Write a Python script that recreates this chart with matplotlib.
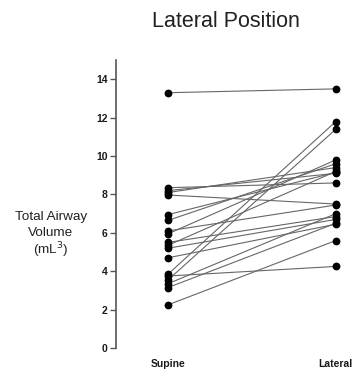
import matplotlib
matplotlib.use("Agg")
import matplotlib.pyplot as plt

categories = ["Supine", "Lateral"]
supine = [13.3, 8.35, 8.2, 8.1, 7.97, 6.95, 6.65, 6.1, 5.95, 5.5, 5.35, 5.2, 4.7,
          3.85, 3.75, 3.55, 3.35, 3.15, 2.25]
lateral = [13.5, 8.6, 9.1, 9.4, 7.5, 9.15, 9.6, 7.45, 9.8, 6.85, 9.2, 6.7, 6.45,
           11.8, 4.25, 11.4, 7.0, 6.5, 5.6]
yticks = [0, 2, 4, 6, 8, 10, 12, 14]

plt.rcParams['font.family'] = ['Liberation Sans', 'DejaVu Sans']

fig = plt.figure(figsize=(3.56, 3.72), dpi=100)
ax = fig.add_axes([0.326, 0.0645, 0.674, 0.774])

xs = [0, 1]
for s, l in zip(supine, lateral):
    ax.plot(xs, [s, l], color="#666666", lw=0.8, zorder=1, clip_on=False)
    ax.plot(xs, [s, l], 'o', color="black", ms=4.6, zorder=2, clip_on=False)

ax.set_xlim(-0.31, 1.12)
ax.set_ylim(0, 15)
ax.set_yticks(yticks)
ax.set_yticklabels([str(t) for t in yticks], fontsize=7.5, fontweight='bold', color='#1a1a1a')
ax.set_xticks([])
for sp in ['top', 'right', 'bottom']:
    ax.spines[sp].set_visible(False)
ax.spines['left'].set_color('#555555')
ax.spines['left'].set_linewidth(1.2)
ax.spines['left'].set_bounds(0, 15)
ax.tick_params(axis='y', direction='out', length=4, width=1, color='#555555', pad=2)

for x, lab in zip(xs, categories):
    ax.text(x, -0.55, lab, ha='center', va='top', fontsize=7.5, fontweight='bold',
            color='#1a1a1a', transform=ax.transData, clip_on=False)

for txt, yy in [("Total Airway", 217), ("Volume", 233), ("(mL$^3$)", 250)]:
    fig.text(0.143, 1 - yy / 372, txt, ha='center', va='center',
             fontsize=9.7, color='#222222')

fig.text(0.635, 0.942, "Lateral Position", ha='center', va='center', fontsize=15.5,
         color='#222222')

fig.savefig("out.png", dpi=100)
